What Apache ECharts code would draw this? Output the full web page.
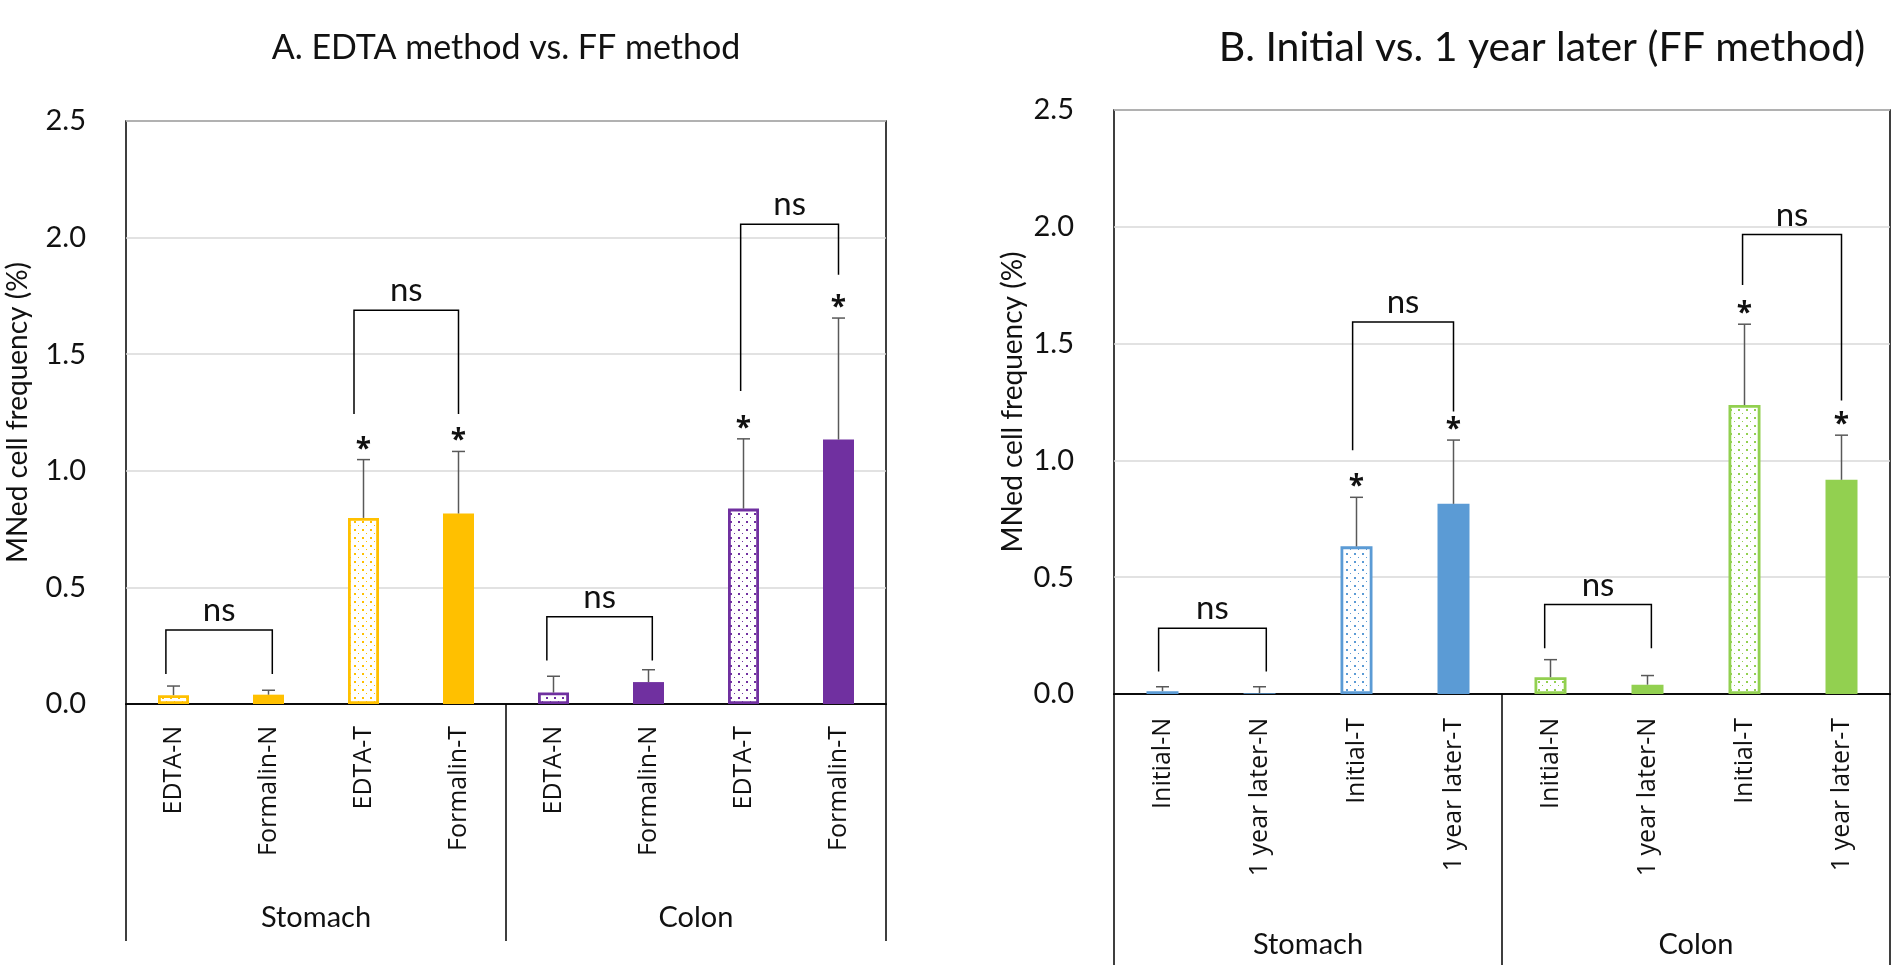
<!DOCTYPE html>
<html><head><meta charset="utf-8">
<script src="https://cdn.jsdelivr.net/npm/echarts@6/dist/echarts.min.js"></script>
<style>html,body{margin:0;padding:0;background:#fff}#c{width:1891px;height:965px}</style>
</head><body><div id="c"></div>
<script>
// ---------- data ----------
const titleA = 'A. EDTA method vs. FF method';
const titleB = 'B. Initial vs. 1 year later (FF method)';
const yAxisName = 'MNed cell frequency (%)';
const yMin = 0, yMax = 2.5, yStep = 0.5;
const groups = ['Stomach', 'Colon'];

const catsA = ['EDTA-N', 'Formalin-N', 'EDTA-T', 'Formalin-T', 'EDTA-N', 'Formalin-N', 'EDTA-T', 'Formalin-T'];
const meansA = [0.038, 0.040, 0.798, 0.817, 0.049, 0.094, 0.838, 1.134];
const sdA = [0.039, 0.019, 0.250, 0.266, 0.070, 0.053, 0.299, 0.521];
const starsA = ['', '', '*', '*', '', '', '*', '*'];
// bracket: [left cat pos, right cat pos, top value, left leg bottom, right leg bottom]
const bracketsA = [
  [-0.08, 1.04, 0.317, 0.129, 0.129],
  [1.90, 3.00, 1.688, 1.244, 1.244],
  [3.93, 5.04, 0.374, 0.187, 0.187],
  [5.97, 7.00, 2.057, 1.342, 1.841]
];

const catsB = ['Initial-N', '1 year later-N', 'Initial-T', '1 year later-T', 'Initial-N', '1 year later-N', 'Initial-T', '1 year later-T'];
const meansB = [0.012, 0.003, 0.632, 0.814, 0.072, 0.040, 1.237, 0.917];
const sdB = [0.019, 0.028, 0.210, 0.273, 0.075, 0.039, 0.346, 0.191];
const starsB = ['', '', '*', '*', '', '', '*', '*'];
const bracketsB = [
  [-0.04, 1.07, 0.281, 0.096, 0.096],
  [1.96, 3.00, 1.593, 1.043, 1.209],
  [3.94, 5.04, 0.383, 0.196, 0.196],
  [5.98, 7.00, 1.967, 1.751, 1.256]
];
const hollow = [true, false, true, false, true, false, true, false];
const colorsA = ['#FFC000', '#7030A0'];
const colorsB = ['#5B9BD5', '#92D050'];

// ---------- helpers ----------
function pattern(color) {
  const c = document.createElement('canvas');
  c.width = 8; c.height = 8;
  const g = c.getContext('2d');
  g.fillStyle = '#fff'; g.fillRect(0, 0, 8, 8);
  g.fillStyle = color;
  g.fillRect(2, 1, 2, 2);
  g.fillRect(6, 5, 1, 1);
  return c;
}
function barData(means, colors) {
  return means.map((v, i) => {
    const col = colors[i < 4 ? 0 : 1];
    return {
      value: v,
      itemStyle: hollow[i]
        ? { color: { image: pattern(col), repeat: 'repeat' }, borderColor: col, borderWidth: 2.8 }
        : { color: col, borderWidth: 0 }
    };
  });
}
function errRender(stars) {
  return function (params, api) {
    const i = api.value(0), m = api.value(1), t = api.value(2);
    const p0 = api.coord([i, m]), p1 = api.coord([i, t]);
    const ch = [
      { type: 'line', shape: { x1: p0[0], y1: p0[1], x2: p1[0], y2: p1[1] }, style: { stroke: '#595959', lineWidth: 1.5 } },
      { type: 'line', shape: { x1: p1[0] - 6.5, y1: p1[1], x2: p1[0] + 6.5, y2: p1[1] }, style: { stroke: '#595959', lineWidth: 1.5 } }
    ];
    if (stars[params.dataIndex]) {
      ch.push({ type: 'text', x: p1[0], y: p1[1] - 10,
        style: { text: stars[params.dataIndex], font: 'bold 28px "Open Sans"', fill: '#111', align: 'center', verticalAlign: 'middle' } });
    }
    return { type: 'group', children: ch };
  };
}
function bracketRender(brs) {
  return function (params, api) {
    const b = brs[params.dataIndex];
    const bw = api.size([1, 0])[0];
    const xp = v => api.coord([Math.round(v), 0])[0] + (v - Math.round(v)) * bw;
    const yp = v => api.coord([0, v])[1];
    const xl = xp(b[0]), xr = xp(b[1]), yt = yp(b[2]), yl = yp(b[3]), yr = yp(b[4]);
    return { type: 'group', children: [
      { type: 'polyline', shape: { points: [[xl, yl], [xl, yt], [xr, yt], [xr, yr]] }, style: { stroke: '#000', lineWidth: 1.5, fill: null } },
      { type: 'text', x: (xl + xr) / 2, y: yt - 3, style: { text: 'ns', font: '33px Lato', fill: '#111', align: 'center', verticalAlign: 'bottom' } }
    ] };
  };
}

const grids = [
  { left: 126, top: 121, width: 760, height: 583, show: true, borderColor: '#000', borderWidth: 1.5, outerBoundsMode: 'none' },
  { left: 1114, top: 110, width: 776, height: 584, show: true, borderColor: '#000', borderWidth: 1.5, outerBoundsMode: 'none' }
];
function catAxis(gi, cats, size, margin) {
  return {
    type: 'category', gridIndex: gi, data: cats,
    axisLine: { lineStyle: { color: '#000', width: 1.5 } }, axisTick: { show: false },
    axisLabel: { interval: 0, rotate: 90, margin: margin, fontFamily: 'Open Sans', fontSize: size, color: '#111' }
  };
}
function yAxis(gi, gap) {
  return {
    type: 'value', gridIndex: gi, min: yMin, max: yMax, interval: yStep,
    axisLine: { show: false }, axisTick: { show: false },
    axisLabel: { margin: 40, fontFamily: 'Lato', fontSize: 29, color: '#111', formatter: v => v.toFixed(1) },
    splitLine: { lineStyle: { color: '#d9d9d9', width: 1.5 } },
    name: yAxisName, nameLocation: 'middle', nameRotate: 90, nameGap: gap,
    nameTextStyle: { fontFamily: 'Lato', fontSize: 28, color: '#111' }
  };
}
function groupAxis(gi, tickLen, margin) {
  return {
    type: 'category', gridIndex: gi, data: groups, position: 'bottom',
    axisLine: { show: true, lineStyle: { color: '#000', width: 1.5 } },
    axisTick: { show: true, length: tickLen, alignWithLabel: false, interval: 0, lineStyle: { color: '#000', width: 1.5 } },
    axisLabel: { interval: 0, margin: margin, fontFamily: 'Lato', fontSize: 29, color: '#111' },
    splitLine: { show: false }
  };
}

const option = {
  animation: false,
  backgroundColor: '#fff',
  grid: grids,
  xAxis: [
    catAxis(0, catsA, 25, 22),
    groupAxis(0, 237, 199),
    catAxis(1, catsB, 25, 24),
    groupAxis(1, 275, 236)
  ],
  yAxis: [yAxis(0, 94), yAxis(1, 87)],
  graphic: [
    { type: 'text', x: 506, y: 48, style: { text: titleA, font: '34px Lato', fill: '#111', align: 'center', verticalAlign: 'middle' } },
    { type: 'text', x: 1542, y: 48, style: { text: titleB, font: '41px Lato', fill: '#111', align: 'center', verticalAlign: 'middle' } }
  ],
  series: [
    { type: 'bar', xAxisIndex: 0, yAxisIndex: 0, barWidth: 31, data: barData(meansA, colorsA), z: 2 },
    { type: 'custom', xAxisIndex: 0, yAxisIndex: 0, clip: false, z: 3, renderItem: errRender(starsA),
      encode: { x: 0, y: [1, 2] }, data: meansA.map((m, i) => [i, m, m + sdA[i]]) },
    { type: 'custom', xAxisIndex: 0, yAxisIndex: 0, clip: false, z: 3, renderItem: bracketRender(bracketsA),
      encode: { x: 0, y: 1 }, data: bracketsA.map(b => [Math.round(b[0]), b[2]]) },
    { type: 'bar', xAxisIndex: 2, yAxisIndex: 1, barWidth: 32, data: barData(meansB, colorsB), z: 2 },
    { type: 'custom', xAxisIndex: 2, yAxisIndex: 1, clip: false, z: 3, renderItem: errRender(starsB),
      encode: { x: 0, y: [1, 2] }, data: meansB.map((m, i) => [i, m, m + sdB[i]]) },
    { type: 'custom', xAxisIndex: 2, yAxisIndex: 1, clip: false, z: 3, renderItem: bracketRender(bracketsB),
      encode: { x: 0, y: 1 }, data: bracketsB.map(b => [Math.round(b[0]), b[2]]) }
  ]
};
const chart = echarts.init(document.getElementById('c'), null, { renderer: 'canvas' });
chart.setOption(option);
</script>
</body></html>
